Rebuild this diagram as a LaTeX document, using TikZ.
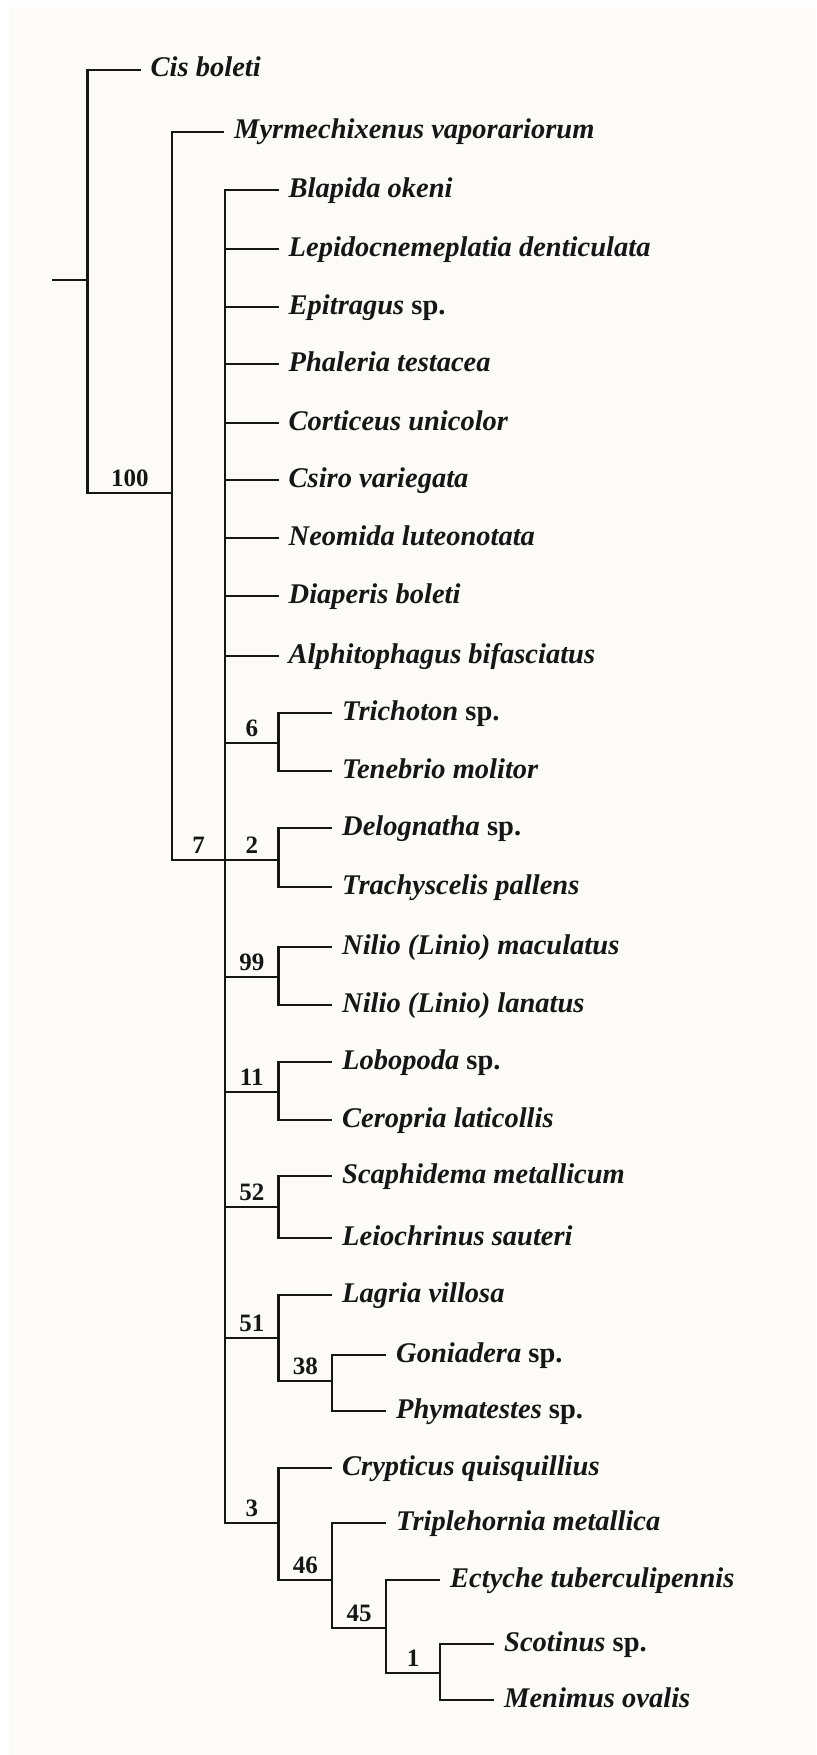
\documentclass[tikz,border=0pt]{standalone}
\usepackage{fontspec}
\setmainfont{Liberation Serif}
\definecolor{bgcream}{RGB}{253,251,248}
\definecolor{ink}{RGB}{22,22,22}
\newcommand\taxleaf[4]{%
  \coordinate (#1t) at (#2,#3);
  \node[taxon] (#1) at ({#2+10},{#3+7}) {#4};}
\newcommand\supval[4]{%
  \node[supp] (#1) at (#2,{#3-7}) {#4};}
\begin{document}
\begin{tikzpicture}[x=1pt,y=-1pt,
  br/.style={draw=ink,line width=2.4pt,line join=miter},
  taxon/.style={anchor=base west,inner sep=0pt,text=ink,font=\fontsize{28.5}{31}\selectfont\bfseries\itshape},
  supp/.style={anchor=base,inner sep=0pt,text=ink,font=\fontsize{25}{28}\selectfont\bfseries}]
\useasboundingbox (0,0) rectangle (816,1755);
\fill[white] (0,0) rectangle (816,1755);
\fill[bgcream] (9,7) rectangle (816,1755);

% internal nodes
\coordinate (root0) at (52,280);
\coordinate (nR) at (87.5,280);
\coordinate (n100) at (172,493);
\coordinate (n7) at (225,860);
\coordinate (n6) at (278.5,743);
\coordinate (n2) at (278.5,860);
\coordinate (n99) at (278.5,977);
\coordinate (n11) at (278.5,1092);
\coordinate (n52) at (278.5,1207);
\coordinate (n51) at (278.5,1338);
\coordinate (n38) at (332,1381);
\coordinate (n3) at (278.5,1523);
\coordinate (n46) at (332,1580);
\coordinate (n45) at (386,1628);
\coordinate (n1) at (440,1673);

% leaves
\taxleaf{cis}{140.5}{70}{Cis boleti}
\taxleaf{myr}{224}{132}{Myrmechixenus vaporariorum}
\taxleaf{bla}{278.5}{190}{Blapida okeni}
\taxleaf{lep}{278.5}{249}{Lepidocnemeplatia denticulata}
\taxleaf{epi}{278.5}{307}{Epitragus \textup{sp.}}
\taxleaf{pha}{278.5}{364}{Phaleria testacea}
\taxleaf{cor}{278.5}{423}{Corticeus unicolor}
\taxleaf{csi}{278.5}{480}{Csiro variegata}
\taxleaf{neo}{278.5}{538}{Neomida luteonotata}
\taxleaf{dia}{278.5}{596}{Diaperis boleti}
\taxleaf{alp}{278.5}{656}{Alphitophagus bifasciatus}
\taxleaf{tri}{332}{713}{Trichoton \textup{sp.}}
\taxleaf{ten}{332}{771}{Tenebrio molitor}
\taxleaf{del}{332}{828}{Delognatha \textup{sp.}}
\taxleaf{tra}{332}{887}{Trachyscelis pallens}
\taxleaf{nim}{332}{947}{Nilio (Linio) maculatus}
\taxleaf{nil}{332}{1005}{Nilio (Linio) lanatus}
\taxleaf{lob}{332}{1062}{Lobopoda \textup{sp.}}
\taxleaf{cer}{332}{1120}{Ceropria laticollis}
\taxleaf{sca}{332}{1176}{Scaphidema metallicum}
\taxleaf{lei}{332}{1238}{Leiochrinus sauteri}
\taxleaf{lag}{332}{1295}{Lagria villosa}
\taxleaf{gon}{386}{1355}{Goniadera \textup{sp.}}
\taxleaf{phy}{386}{1411}{Phymatestes \textup{sp.}}
\taxleaf{cry}{332}{1468}{Crypticus quisquillius}
\taxleaf{trp}{386}{1523}{Triplehornia metallica}
\taxleaf{ect}{440}{1580}{Ectyche tuberculipennis}
\taxleaf{sco}{494}{1644}{Scotinus \textup{sp.}}
\taxleaf{men}{494}{1700}{Menimus ovalis}

% branches
\draw[br] (root0) -- (nR);
\draw[br] (nR) |- (cist);
\draw[br] (nR) |- (n100);
\draw[br] (n100) |- (myrt);
\draw[br] (n100) |- (n7);
\foreach \t in {bla,lep,epi,pha,cor,csi,neo,dia,alp}{\draw[br] (n7) |- (\t t);}
\foreach \c in {n6,n2,n99,n11,n52,n51,n3}{\draw[br] (n7) |- (\c);}
\draw[br] (n6) |- (trit);  \draw[br] (n6) |- (tent);
\draw[br] (n2) |- (delt);  \draw[br] (n2) |- (trat);
\draw[br] (n99) |- (nimt); \draw[br] (n99) |- (nilt);
\draw[br] (n11) |- (lobt); \draw[br] (n11) |- (cert);
\draw[br] (n52) |- (scat); \draw[br] (n52) |- (leit);
\draw[br] (n51) |- (lagt); \draw[br] (n51) |- (n38);
\draw[br] (n38) |- (gont); \draw[br] (n38) |- (phyt);
\draw[br] (n3) |- (cryt);  \draw[br] (n3) |- (n46);
\draw[br] (n46) |- (trpt); \draw[br] (n46) |- (n45);
\draw[br] (n45) |- (ectt); \draw[br] (n45) |- (n1);
\draw[br] (n1) |- (scot);  \draw[br] (n1) |- (ment);

% support values
\supval{s100}{129.75}{493}{100}
\supval{s7}{198.5}{860}{7}
\supval{s6}{251.75}{743}{6}
\supval{s2}{251.75}{860}{2}
\supval{s99}{251.75}{977}{99}
\supval{s11}{251.75}{1092}{11}
\supval{s52}{251.75}{1207}{52}
\supval{s51}{251.75}{1338}{51}
\supval{s38}{305.25}{1381}{38}
\supval{s3}{251.75}{1523}{3}
\supval{s46}{305.25}{1580}{46}
\supval{s45}{359}{1628}{45}
\supval{s1}{413}{1673}{1}
\end{tikzpicture}
\end{document}
